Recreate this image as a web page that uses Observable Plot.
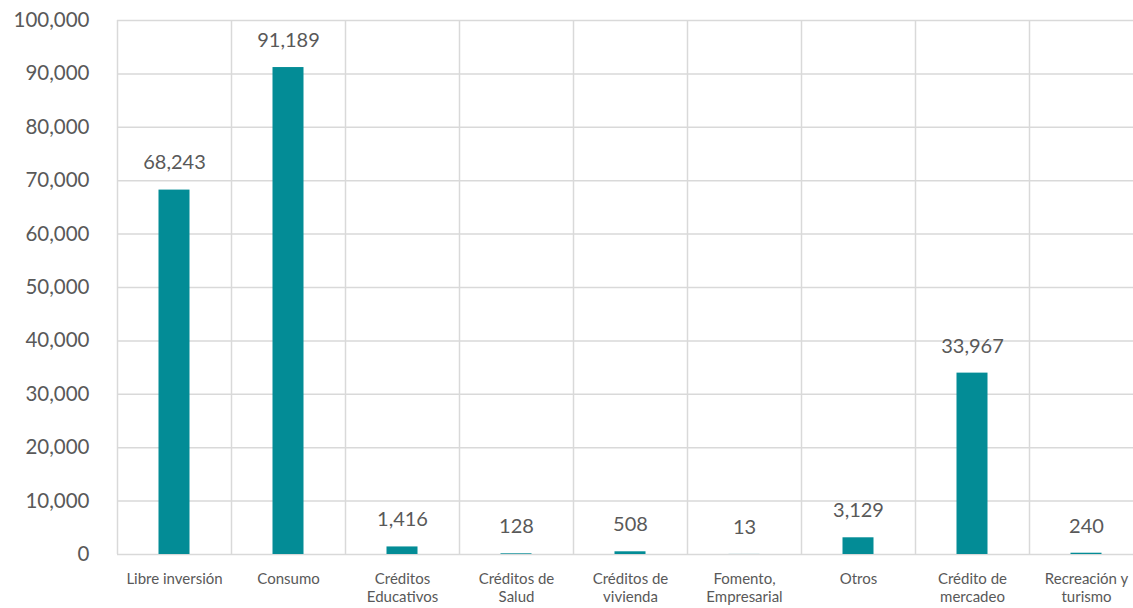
<!DOCTYPE html>
<html>
<head>
<meta charset="utf-8">
<script src="https://cdn.jsdelivr.net/npm/d3@7"></script>
<script src="https://cdn.jsdelivr.net/npm/@observablehq/plot@0.6"></script>
<style>
  html, body { margin: 0; padding: 0; background: #fff; }
  #chart svg { font-family: Lato, "Open Sans", sans-serif; display: block; }
</style>
</head>
<body>
<div id="chart"></div>
<script>
const categories = ["Libre inversión", "Consumo", "Créditos Educativos", "Créditos de Salud", "Créditos de vivienda", "Fomento, Empresarial", "Otros", "Crédito de mercadeo", "Recreación y turismo"];
const tickLabels = ["Libre inversión", "Consumo", "Créditos\nEducativos", "Créditos de\nSalud", "Créditos de\nvivienda", "Fomento,\nEmpresarial", "Otros", "Crédito de\nmercadeo", "Recreación y\nturismo"];
const values = [68243, 91189, 1416, 128, 508, 13, 3129, 33967, 240];
const yTicks = [0, 10000, 20000, 30000, 40000, 50000, 60000, 70000, 80000, 90000, 100000];

const data = categories.map((c, i) => ({cat: c, value: values[i]}));
const labelOf = new Map(categories.map((c, i) => [c, tickLabels[i]]));
const fmt = d3.format(",");

const W = 1133, H = 608;
const x0 = 117, x1 = 1143;
const bw = (x1 - x0) / categories.length;
const grid = "#d9d9d9";
const ink = "#595959";

const chart = Plot.plot({
  width: W,
  height: H,
  marginLeft: 117,
  marginTop: 20,
  marginBottom: 54,
  marginRight: 0,
  style: {fontFamily: "Lato, 'Open Sans', sans-serif", color: ink, background: "#fff"},
  x: {domain: categories, range: [x0, x1], padding: 0, label: null},
  y: {domain: [0, 100000], label: null},
  marks: [
    Plot.ruleY(yTicks, {stroke: grid, strokeWidth: 1.5}),
    Plot.ruleX(categories, {x: d => d, dx: -bw / 2, stroke: grid, strokeWidth: 1.5}),
    Plot.ruleX([categories[categories.length - 1]], {x: d => d, dx: bw / 2, stroke: grid, strokeWidth: 1.5}),
    Plot.barY(data, {x: "cat", y: "value", fill: "#038c96", insetLeft: 41.5, insetRight: 41.5}),
    Plot.text(data, {x: "cat", y: "value", text: d => fmt(d.value), dy: -27, fontSize: 20, fill: ink}),
    Plot.axisY({ticks: yTicks, tickFormat: fmt, tickSize: 0, tickPadding: 28, fontSize: 20.5, fill: ink, label: null}),
    Plot.axisX({tickFormat: d => labelOf.get(d), tickSize: 0, tickPadding: 17, fontSize: 15, fill: ink, lineHeight: 1.2, label: null})
  ]
});
document.getElementById("chart").appendChild(chart);
</script>
</body>
</html>
